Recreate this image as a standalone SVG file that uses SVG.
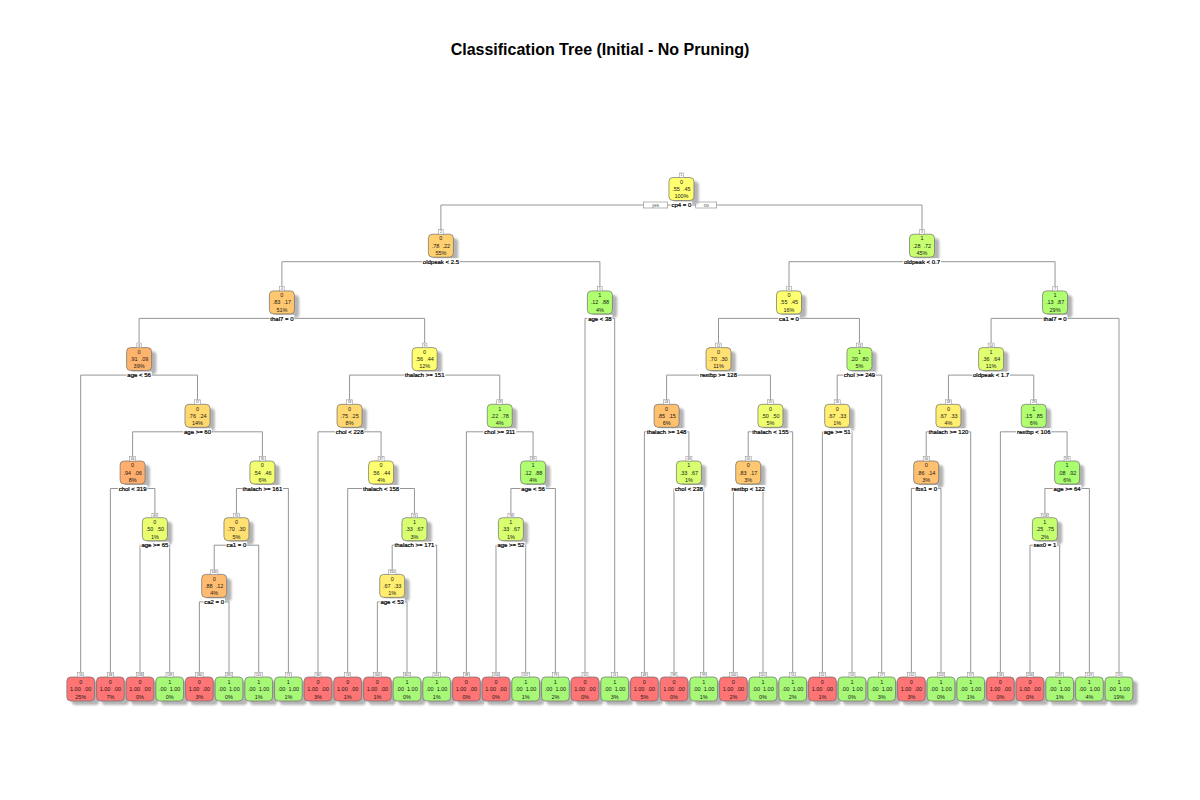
<svg xmlns="http://www.w3.org/2000/svg" width="1200" height="800" viewBox="0 0 1200 800">
<defs>
<filter id="sf" x="-30%" y="-30%" width="160%" height="160%"><feGaussianBlur stdDeviation="1.1"/></filter>
<style>
text { font-family: "Liberation Sans", Arial, sans-serif; text-anchor: middle; }
.title { font-size: 16px; font-weight: bold; fill: #000; }
.v { font-size: 5.5px; fill: #1a1a1a; }
.s { font-size: 6px; fill: #000; stroke: #000; stroke-width: 0.22; }
.n { font-size: 3.2px; fill: #444; }
.yn { font-size: 4.6px; fill: #555; }
.sh { fill: #b4b4b4; filter: url(#sf); transform: translate(0.8px, 0); }
.bx { stroke: #6e6e6e; stroke-width: 0.7; }
.nb { fill: #fff; stroke: #888; stroke-width: 0.5; }
.lb { fill: #fff; }
.ynb { fill: #fff; stroke: #888; stroke-width: 0.6; }
.br { fill: none; stroke: #8a8a8a; stroke-width: 0.9; }
.red { fill: #FF7474; }
.grn { fill: #A8F878; }
</style>
</defs>
<rect width="1200" height="800" fill="#fff"/>
<text class="title" x="600" y="54.5">Classification Tree (Initial - No Pruning)</text>

<g id="connectors">
<path class="br" d="M440.9,229.7 V205 H922 V229.7"/>
<path class="br" d="M281.9,286.4 V261.7 H599.9 V286.4"/>
<path class="br" d="M789,286.4 V261.7 H1055.05 V286.4"/>
<path class="br" d="M139.1,343.1 V318.4 H424.65 V343.1"/>
<path class="br" d="M585,672.5 V318.4 H614.7 V672.5"/>
<path class="br" d="M718.5,343.1 V318.4 H859.45 V343.1"/>
<path class="br" d="M991.1,343.1 V318.4 H1119 V672.5"/>
<path class="br" d="M80.7,672.5 V375.1 H197.5 V399.8"/>
<path class="br" d="M349.55,399.8 V375.1 H499.75 V399.8"/>
<path class="br" d="M666.6,399.8 V375.1 H770.45 V399.8"/>
<path class="br" d="M837.2,399.8 V375.1 H881.7 V672.5"/>
<path class="br" d="M948.45,399.8 V375.1 H1033.75 V399.8"/>
<path class="br" d="M132.6,456.5 V431.8 H262.4 V456.5"/>
<path class="br" d="M318,672.5 V431.8 H381.1 V456.5"/>
<path class="br" d="M466.4,672.5 V431.8 H533.1 V456.5"/>
<path class="br" d="M644.4,672.5 V431.8 H688.9 V456.5"/>
<path class="br" d="M748.2,456.5 V431.8 H792.7 V672.5"/>
<path class="br" d="M822.4,672.5 V431.8 H852 V672.5"/>
<path class="br" d="M926.2,456.5 V431.8 H970.7 V672.5"/>
<path class="br" d="M1000.4,672.5 V431.8 H1067.1 V456.5"/>
<path class="br" d="M110.4,672.5 V488.5 H154.9 V513.2"/>
<path class="br" d="M236.45,513.2 V488.5 H288.4 V672.5"/>
<path class="br" d="M347.7,672.5 V488.5 H414.45 V513.2"/>
<path class="br" d="M510.9,513.2 V488.5 H555.4 V672.5"/>
<path class="br" d="M674,672.5 V488.5 H703.7 V672.5"/>
<path class="br" d="M733.4,672.5 V488.5 H763 V672.5"/>
<path class="br" d="M911.4,672.5 V488.5 H941 V672.5"/>
<path class="br" d="M1044.9,513.2 V488.5 H1089.4 V672.5"/>
<path class="br" d="M140,672.5 V545.2 H169.7 V672.5"/>
<path class="br" d="M214.2,569.9 V545.2 H258.7 V672.5"/>
<path class="br" d="M392.2,569.9 V545.2 H436.7 V672.5"/>
<path class="br" d="M496,672.5 V545.2 H525.7 V672.5"/>
<path class="br" d="M1030,672.5 V545.2 H1059.7 V672.5"/>
<path class="br" d="M199.4,672.5 V601.9 H229 V672.5"/>
<path class="br" d="M377.4,672.5 V601.9 H407 V672.5"/>
<rect class="ynb" x="643.3" y="202" width="24.4" height="6"/>
<text class="yn" x="655.5" y="206.7">yes</text>
<rect class="ynb" x="695.7" y="202" width="21" height="6"/>
<text class="yn" x="706.2" y="206.7">no</text>
</g>

<g id="nodes">
<g id="node1" transform="translate(681.45,177.5)"><rect class="sh" x="-8.5" y="4" width="25" height="23" rx="4"/><rect class="bx" x="-12.5" y="0" width="25" height="23" rx="4" fill="#FFFF70"/><rect class="nb" x="-2.25" y="-4.5" width="4.5" height="4.5"/><text class="n" y="-1.1">1</text><text class="v" y="6.3">0</text><text class="v" y="13.6">.55&#160;&#160;.45</text><text class="v" y="20.9">100%</text><rect class="lb" x="-10.7" y="24" width="21.4" height="7"/><text class="s" y="29.7">cp4 = 0</text></g>
<g id="node2" transform="translate(440.9,234.2)"><rect class="sh" x="-8.5" y="4" width="25" height="23" rx="4"/><rect class="bx" x="-12.5" y="0" width="25" height="23" rx="4" fill="#FFD070"/><rect class="nb" x="-2.25" y="-4.5" width="4.5" height="4.5"/><text class="n" y="-1.1">2</text><text class="v" y="6.3">0</text><text class="v" y="13.6">.78&#160;&#160;.22</text><text class="v" y="20.9">55%</text><rect class="lb" x="-18.9" y="24" width="37.8" height="7"/><text class="s" y="29.7">oldpeak &lt; 2.5</text></g>
<g id="node3" transform="translate(922,234.2)"><rect class="sh" x="-8.5" y="4" width="25" height="23" rx="4"/><rect class="bx" x="-12.5" y="0" width="25" height="23" rx="4" fill="#C8FF70"/><rect class="nb" x="-2.25" y="-4.5" width="4.5" height="4.5"/><text class="n" y="-1.1">3</text><text class="v" y="6.3">1</text><text class="v" y="13.6">.28&#160;&#160;.72</text><text class="v" y="20.9">45%</text><rect class="lb" x="-18.9" y="24" width="37.8" height="7"/><text class="s" y="29.7">oldpeak &lt; 0.7</text></g>
<g id="node4" transform="translate(281.9,290.9)"><rect class="sh" x="-8.5" y="4" width="25" height="23" rx="4"/><rect class="bx" x="-12.5" y="0" width="25" height="23" rx="4" fill="#FFC870"/><rect class="nb" x="-2.25" y="-4.5" width="4.5" height="4.5"/><text class="n" y="-1.1">4</text><text class="v" y="6.3">0</text><text class="v" y="13.6">.83&#160;&#160;.17</text><text class="v" y="20.9">51%</text><rect class="lb" x="-12.4" y="24" width="24.8" height="7"/><text class="s" y="29.7">thal7 = 0</text></g>
<g id="node5" transform="translate(599.9,290.9)"><rect class="sh" x="-8.5" y="4" width="25" height="23" rx="4"/><rect class="bx" x="-12.5" y="0" width="25" height="23" rx="4" fill="#B0FF70"/><rect class="nb" x="-2.25" y="-4.5" width="4.5" height="4.5"/><text class="n" y="-1.1">5</text><text class="v" y="6.3">1</text><text class="v" y="13.6">.12&#160;&#160;.88</text><text class="v" y="20.9">4%</text><rect class="lb" x="-12.6" y="24" width="25.2" height="7"/><text class="s" y="29.7">age &lt; 38</text></g>
<g id="node6" transform="translate(789,290.9)"><rect class="sh" x="-8.5" y="4" width="25" height="23" rx="4"/><rect class="bx" x="-12.5" y="0" width="25" height="23" rx="4" fill="#FFFF70"/><rect class="nb" x="-2.25" y="-4.5" width="4.5" height="4.5"/><text class="n" y="-1.1">6</text><text class="v" y="6.3">0</text><text class="v" y="13.6">.55&#160;&#160;.45</text><text class="v" y="20.9">16%</text><rect class="lb" x="-10.7" y="24" width="21.4" height="7"/><text class="s" y="29.7">ca1 = 0</text></g>
<g id="node7" transform="translate(1055.05,290.9)"><rect class="sh" x="-8.5" y="4" width="25" height="23" rx="4"/><rect class="bx" x="-12.5" y="0" width="25" height="23" rx="4" fill="#B0FF70"/><rect class="nb" x="-2.25" y="-4.5" width="4.5" height="4.5"/><text class="n" y="-1.1">7</text><text class="v" y="6.3">1</text><text class="v" y="13.6">.13&#160;&#160;.87</text><text class="v" y="20.9">29%</text><rect class="lb" x="-12.4" y="24" width="24.8" height="7"/><text class="s" y="29.7">thal7 = 0</text></g>
<g id="node8" transform="translate(139.1,347.6)"><rect class="sh" x="-8.5" y="4" width="25" height="23" rx="4"/><rect class="bx" x="-12.5" y="0" width="25" height="23" rx="4" fill="#FFB46E"/><rect class="nb" x="-2.25" y="-4.5" width="4.5" height="4.5"/><text class="n" y="-1.1">8</text><text class="v" y="6.3">0</text><text class="v" y="13.6">.91&#160;&#160;.09</text><text class="v" y="20.9">39%</text><rect class="lb" x="-12.6" y="24" width="25.2" height="7"/><text class="s" y="29.7">age &lt; 56</text></g>
<g id="node9" transform="translate(424.65,347.6)"><rect class="sh" x="-8.5" y="4" width="25" height="23" rx="4"/><rect class="bx" x="-12.5" y="0" width="25" height="23" rx="4" fill="#FFFF70"/><rect class="nb" x="-2.25" y="-4.5" width="4.5" height="4.5"/><text class="n" y="-1.1">9</text><text class="v" y="6.3">0</text><text class="v" y="13.6">.56&#160;&#160;.44</text><text class="v" y="20.9">12%</text><rect class="lb" x="-20.6" y="24" width="41.2" height="7"/><text class="s" y="29.7">thalach &gt;= 151</text></g>
<g id="node12" transform="translate(718.5,347.6)"><rect class="sh" x="-8.5" y="4" width="25" height="23" rx="4"/><rect class="bx" x="-12.5" y="0" width="25" height="23" rx="4" fill="#FFE070"/><rect class="nb" x="-3" y="-4.5" width="6" height="4.5"/><text class="n" y="-1.1">12</text><text class="v" y="6.3">0</text><text class="v" y="13.6">.70&#160;&#160;.30</text><text class="v" y="20.9">11%</text><rect class="lb" x="-19.3" y="24" width="38.6" height="7"/><text class="s" y="29.7">restbp &gt;= 128</text></g>
<g id="node13" transform="translate(859.45,347.6)"><rect class="sh" x="-8.5" y="4" width="25" height="23" rx="4"/><rect class="bx" x="-12.5" y="0" width="25" height="23" rx="4" fill="#B8FF70"/><rect class="nb" x="-3" y="-4.5" width="6" height="4.5"/><text class="n" y="-1.1">13</text><text class="v" y="6.3">1</text><text class="v" y="13.6">.20&#160;&#160;.80</text><text class="v" y="20.9">5%</text><rect class="lb" x="-16.5" y="24" width="33" height="7"/><text class="s" y="29.7">chol &gt;= 249</text></g>
<g id="node14" transform="translate(991.1,347.6)"><rect class="sh" x="-8.5" y="4" width="25" height="23" rx="4"/><rect class="bx" x="-12.5" y="0" width="25" height="23" rx="4" fill="#E0FF70"/><rect class="nb" x="-3" y="-4.5" width="6" height="4.5"/><text class="n" y="-1.1">14</text><text class="v" y="6.3">1</text><text class="v" y="13.6">.36&#160;&#160;.64</text><text class="v" y="20.9">11%</text><rect class="lb" x="-18.9" y="24" width="37.8" height="7"/><text class="s" y="29.7">oldpeak &lt; 1.7</text></g>
<g id="node17" transform="translate(197.5,404.3)"><rect class="sh" x="-8.5" y="4" width="25" height="23" rx="4"/><rect class="bx" x="-12.5" y="0" width="25" height="23" rx="4" fill="#FFD870"/><rect class="nb" x="-3" y="-4.5" width="6" height="4.5"/><text class="n" y="-1.1">17</text><text class="v" y="6.3">0</text><text class="v" y="13.6">.76&#160;&#160;.24</text><text class="v" y="20.9">14%</text><rect class="lb" x="-14.3" y="24" width="28.6" height="7"/><text class="s" y="29.7">age &gt;= 60</text></g>
<g id="node18" transform="translate(349.55,404.3)"><rect class="sh" x="-8.5" y="4" width="25" height="23" rx="4"/><rect class="bx" x="-12.5" y="0" width="25" height="23" rx="4" fill="#FFD870"/><rect class="nb" x="-3" y="-4.5" width="6" height="4.5"/><text class="n" y="-1.1">18</text><text class="v" y="6.3">0</text><text class="v" y="13.6">.75&#160;&#160;.25</text><text class="v" y="20.9">8%</text><rect class="lb" x="-14.75" y="24" width="29.5" height="7"/><text class="s" y="29.7">chol &lt; 228</text></g>
<g id="node19" transform="translate(499.75,404.3)"><rect class="sh" x="-8.5" y="4" width="25" height="23" rx="4"/><rect class="bx" x="-12.5" y="0" width="25" height="23" rx="4" fill="#B8FF70"/><rect class="nb" x="-3" y="-4.5" width="6" height="4.5"/><text class="n" y="-1.1">19</text><text class="v" y="6.3">1</text><text class="v" y="13.6">.22&#160;&#160;.78</text><text class="v" y="20.9">4%</text><rect class="lb" x="-16.5" y="24" width="33" height="7"/><text class="s" y="29.7">chol &gt;= 311</text></g>
<g id="node24" transform="translate(666.6,404.3)"><rect class="sh" x="-8.5" y="4" width="25" height="23" rx="4"/><rect class="bx" x="-12.5" y="0" width="25" height="23" rx="4" fill="#FFC070"/><rect class="nb" x="-3" y="-4.5" width="6" height="4.5"/><text class="n" y="-1.1">24</text><text class="v" y="6.3">0</text><text class="v" y="13.6">.85&#160;&#160;.15</text><text class="v" y="20.9">6%</text><rect class="lb" x="-20.6" y="24" width="41.2" height="7"/><text class="s" y="29.7">thalach &gt;= 148</text></g>
<g id="node25" transform="translate(770.45,404.3)"><rect class="sh" x="-8.5" y="4" width="25" height="23" rx="4"/><rect class="bx" x="-12.5" y="0" width="25" height="23" rx="4" fill="#EEFF70"/><rect class="nb" x="-3" y="-4.5" width="6" height="4.5"/><text class="n" y="-1.1">25</text><text class="v" y="6.3">0</text><text class="v" y="13.6">.50&#160;&#160;.50</text><text class="v" y="20.9">5%</text><rect class="lb" x="-18.9" y="24" width="37.8" height="7"/><text class="s" y="29.7">thalach &lt; 155</text></g>
<g id="node26" transform="translate(837.2,404.3)"><rect class="sh" x="-8.5" y="4" width="25" height="23" rx="4"/><rect class="bx" x="-12.5" y="0" width="25" height="23" rx="4" fill="#FFEE70"/><rect class="nb" x="-3" y="-4.5" width="6" height="4.5"/><text class="n" y="-1.1">26</text><text class="v" y="6.3">0</text><text class="v" y="13.6">.67&#160;&#160;.33</text><text class="v" y="20.9">1%</text><rect class="lb" x="-14.3" y="24" width="28.6" height="7"/><text class="s" y="29.7">age &gt;= 51</text></g>
<g id="node28" transform="translate(948.45,404.3)"><rect class="sh" x="-8.5" y="4" width="25" height="23" rx="4"/><rect class="bx" x="-12.5" y="0" width="25" height="23" rx="4" fill="#FFEE70"/><rect class="nb" x="-3" y="-4.5" width="6" height="4.5"/><text class="n" y="-1.1">28</text><text class="v" y="6.3">0</text><text class="v" y="13.6">.67&#160;&#160;.33</text><text class="v" y="20.9">4%</text><rect class="lb" x="-20.6" y="24" width="41.2" height="7"/><text class="s" y="29.7">thalach &gt;= 120</text></g>
<g id="node29" transform="translate(1033.75,404.3)"><rect class="sh" x="-8.5" y="4" width="25" height="23" rx="4"/><rect class="bx" x="-12.5" y="0" width="25" height="23" rx="4" fill="#B0FF70"/><rect class="nb" x="-3" y="-4.5" width="6" height="4.5"/><text class="n" y="-1.1">29</text><text class="v" y="6.3">1</text><text class="v" y="13.6">.15&#160;&#160;.85</text><text class="v" y="20.9">6%</text><rect class="lb" x="-17.55" y="24" width="35.1" height="7"/><text class="s" y="29.7">restbp &lt; 106</text></g>
<g id="node34" transform="translate(132.6,461)"><rect class="sh" x="-8.5" y="4" width="25" height="23" rx="4"/><rect class="bx" x="-12.5" y="0" width="25" height="23" rx="4" fill="#FFAE6E"/><rect class="nb" x="-3" y="-4.5" width="6" height="4.5"/><text class="n" y="-1.1">34</text><text class="v" y="6.3">0</text><text class="v" y="13.6">.94&#160;&#160;.06</text><text class="v" y="20.9">8%</text><rect class="lb" x="-14.75" y="24" width="29.5" height="7"/><text class="s" y="29.7">chol &lt; 319</text></g>
<g id="node35" transform="translate(262.4,461)"><rect class="sh" x="-8.5" y="4" width="25" height="23" rx="4"/><rect class="bx" x="-12.5" y="0" width="25" height="23" rx="4" fill="#F2FF70"/><rect class="nb" x="-3" y="-4.5" width="6" height="4.5"/><text class="n" y="-1.1">35</text><text class="v" y="6.3">0</text><text class="v" y="13.6">.54&#160;&#160;.46</text><text class="v" y="20.9">6%</text><rect class="lb" x="-20.6" y="24" width="41.2" height="7"/><text class="s" y="29.7">thalach &gt;= 161</text></g>
<g id="node37" transform="translate(381.1,461)"><rect class="sh" x="-8.5" y="4" width="25" height="23" rx="4"/><rect class="bx" x="-12.5" y="0" width="25" height="23" rx="4" fill="#FFFF70"/><rect class="nb" x="-3" y="-4.5" width="6" height="4.5"/><text class="n" y="-1.1">37</text><text class="v" y="6.3">0</text><text class="v" y="13.6">.56&#160;&#160;.44</text><text class="v" y="20.9">4%</text><rect class="lb" x="-18.9" y="24" width="37.8" height="7"/><text class="s" y="29.7">thalach &lt; 158</text></g>
<g id="node39" transform="translate(533.1,461)"><rect class="sh" x="-8.5" y="4" width="25" height="23" rx="4"/><rect class="bx" x="-12.5" y="0" width="25" height="23" rx="4" fill="#B0FF70"/><rect class="nb" x="-3" y="-4.5" width="6" height="4.5"/><text class="n" y="-1.1">39</text><text class="v" y="6.3">1</text><text class="v" y="13.6">.12&#160;&#160;.88</text><text class="v" y="20.9">4%</text><rect class="lb" x="-12.6" y="24" width="25.2" height="7"/><text class="s" y="29.7">age &lt; 56</text></g>
<g id="node49" transform="translate(688.9,461)"><rect class="sh" x="-8.5" y="4" width="25" height="23" rx="4"/><rect class="bx" x="-12.5" y="0" width="25" height="23" rx="4" fill="#D8FF70"/><rect class="nb" x="-3" y="-4.5" width="6" height="4.5"/><text class="n" y="-1.1">49</text><text class="v" y="6.3">1</text><text class="v" y="13.6">.33&#160;&#160;.67</text><text class="v" y="20.9">1%</text><rect class="lb" x="-14.75" y="24" width="29.5" height="7"/><text class="s" y="29.7">chol &lt; 238</text></g>
<g id="node50" transform="translate(748.2,461)"><rect class="sh" x="-8.5" y="4" width="25" height="23" rx="4"/><rect class="bx" x="-12.5" y="0" width="25" height="23" rx="4" fill="#FFC870"/><rect class="nb" x="-3" y="-4.5" width="6" height="4.5"/><text class="n" y="-1.1">50</text><text class="v" y="6.3">0</text><text class="v" y="13.6">.83&#160;&#160;.17</text><text class="v" y="20.9">3%</text><rect class="lb" x="-17.55" y="24" width="35.1" height="7"/><text class="s" y="29.7">restbp &lt; 122</text></g>
<g id="node56" transform="translate(926.2,461)"><rect class="sh" x="-8.5" y="4" width="25" height="23" rx="4"/><rect class="bx" x="-12.5" y="0" width="25" height="23" rx="4" fill="#FFC070"/><rect class="nb" x="-3" y="-4.5" width="6" height="4.5"/><text class="n" y="-1.1">56</text><text class="v" y="6.3">0</text><text class="v" y="13.6">.86&#160;&#160;.14</text><text class="v" y="20.9">3%</text><rect class="lb" x="-11.55" y="24" width="23.1" height="7"/><text class="s" y="29.7">fbs1 = 0</text></g>
<g id="node59" transform="translate(1067.1,461)"><rect class="sh" x="-8.5" y="4" width="25" height="23" rx="4"/><rect class="bx" x="-12.5" y="0" width="25" height="23" rx="4" fill="#AAFF70"/><rect class="nb" x="-3" y="-4.5" width="6" height="4.5"/><text class="n" y="-1.1">59</text><text class="v" y="6.3">1</text><text class="v" y="13.6">.08&#160;&#160;.92</text><text class="v" y="20.9">6%</text><rect class="lb" x="-14.3" y="24" width="28.6" height="7"/><text class="s" y="29.7">age &gt;= 64</text></g>
<g id="node69" transform="translate(154.9,517.7)"><rect class="sh" x="-8.5" y="4" width="25" height="23" rx="4"/><rect class="bx" x="-12.5" y="0" width="25" height="23" rx="4" fill="#EAFF70"/><rect class="nb" x="-3" y="-4.5" width="6" height="4.5"/><text class="n" y="-1.1">69</text><text class="v" y="6.3">0</text><text class="v" y="13.6">.50&#160;&#160;.50</text><text class="v" y="20.9">1%</text><rect class="lb" x="-14.3" y="24" width="28.6" height="7"/><text class="s" y="29.7">age &gt;= 65</text></g>
<g id="node70" transform="translate(236.45,517.7)"><rect class="sh" x="-8.5" y="4" width="25" height="23" rx="4"/><rect class="bx" x="-12.5" y="0" width="25" height="23" rx="4" fill="#FFE070"/><rect class="nb" x="-3" y="-4.5" width="6" height="4.5"/><text class="n" y="-1.1">70</text><text class="v" y="6.3">0</text><text class="v" y="13.6">.70&#160;&#160;.30</text><text class="v" y="20.9">5%</text><rect class="lb" x="-10.7" y="24" width="21.4" height="7"/><text class="s" y="29.7">ca1 = 0</text></g>
<g id="node75" transform="translate(414.45,517.7)"><rect class="sh" x="-8.5" y="4" width="25" height="23" rx="4"/><rect class="bx" x="-12.5" y="0" width="25" height="23" rx="4" fill="#D8FF70"/><rect class="nb" x="-3" y="-4.5" width="6" height="4.5"/><text class="n" y="-1.1">75</text><text class="v" y="6.3">1</text><text class="v" y="13.6">.33&#160;&#160;.67</text><text class="v" y="20.9">3%</text><rect class="lb" x="-20.6" y="24" width="41.2" height="7"/><text class="s" y="29.7">thalach &gt;= 171</text></g>
<g id="node78" transform="translate(510.9,517.7)"><rect class="sh" x="-8.5" y="4" width="25" height="23" rx="4"/><rect class="bx" x="-12.5" y="0" width="25" height="23" rx="4" fill="#D8FF70"/><rect class="nb" x="-3" y="-4.5" width="6" height="4.5"/><text class="n" y="-1.1">78</text><text class="v" y="6.3">1</text><text class="v" y="13.6">.33&#160;&#160;.67</text><text class="v" y="20.9">1%</text><rect class="lb" x="-14.3" y="24" width="28.6" height="7"/><text class="s" y="29.7">age &gt;= 52</text></g>
<g id="node118" transform="translate(1044.9,517.7)"><rect class="sh" x="-8.5" y="4" width="25" height="23" rx="4"/><rect class="bx" x="-12.5" y="0" width="25" height="23" rx="4" fill="#C4FF70"/><rect class="nb" x="-3.75" y="-4.5" width="7.5" height="4.5"/><text class="n" y="-1.1">118</text><text class="v" y="6.3">1</text><text class="v" y="13.6">.25&#160;&#160;.75</text><text class="v" y="20.9">2%</text><rect class="lb" x="-12.2" y="24" width="24.4" height="7"/><text class="s" y="29.7">sex0 = 1</text></g>
<g id="node140" transform="translate(214.2,574.4)"><rect class="sh" x="-8.5" y="4" width="25" height="23" rx="4"/><rect class="bx" x="-12.5" y="0" width="25" height="23" rx="4" fill="#FFBC70"/><rect class="nb" x="-3.75" y="-4.5" width="7.5" height="4.5"/><text class="n" y="-1.1">140</text><text class="v" y="6.3">0</text><text class="v" y="13.6">.88&#160;&#160;.12</text><text class="v" y="20.9">4%</text><rect class="lb" x="-10.7" y="24" width="21.4" height="7"/><text class="s" y="29.7">ca2 = 0</text></g>
<g id="node150" transform="translate(392.2,574.4)"><rect class="sh" x="-8.5" y="4" width="25" height="23" rx="4"/><rect class="bx" x="-12.5" y="0" width="25" height="23" rx="4" fill="#FFEE70"/><rect class="nb" x="-3.75" y="-4.5" width="7.5" height="4.5"/><text class="n" y="-1.1">150</text><text class="v" y="6.3">0</text><text class="v" y="13.6">.67&#160;&#160;.33</text><text class="v" y="20.9">1%</text><rect class="lb" x="-12.6" y="24" width="25.2" height="7"/><text class="s" y="29.7">age &lt; 53</text></g>
</g>

<g id="leaves">
<g id="node16" transform="translate(80.7,677)"><rect class="sh" x="-9.85" y="4" width="27.7" height="24" rx="4"/><rect class="bx red" x="-13.85" y="0" width="27.7" height="24" rx="4"/><rect class="nb" x="-3" y="-4.5" width="6" height="4.5"/><text class="n" y="-1.1">16</text><text class="v" y="7">0</text><text class="v" y="14.3">1.00&#160;&#160;.00</text><text class="v" y="21.6">25%</text></g>
<g id="node68" transform="translate(110.4,677)"><rect class="sh" x="-9.85" y="4" width="27.7" height="24" rx="4"/><rect class="bx red" x="-13.85" y="0" width="27.7" height="24" rx="4"/><rect class="nb" x="-3" y="-4.5" width="6" height="4.5"/><text class="n" y="-1.1">68</text><text class="v" y="7">0</text><text class="v" y="14.3">1.00&#160;&#160;.00</text><text class="v" y="21.6">7%</text></g>
<g id="node138" transform="translate(140,677)"><rect class="sh" x="-9.85" y="4" width="27.7" height="24" rx="4"/><rect class="bx red" x="-13.85" y="0" width="27.7" height="24" rx="4"/><rect class="nb" x="-3.75" y="-4.5" width="7.5" height="4.5"/><text class="n" y="-1.1">138</text><text class="v" y="7">0</text><text class="v" y="14.3">1.00&#160;&#160;.00</text><text class="v" y="21.6">0%</text></g>
<g id="node139" transform="translate(169.7,677)"><rect class="sh" x="-9.85" y="4" width="27.7" height="24" rx="4"/><rect class="bx grn" x="-13.85" y="0" width="27.7" height="24" rx="4"/><rect class="nb" x="-3.75" y="-4.5" width="7.5" height="4.5"/><text class="n" y="-1.1">139</text><text class="v" y="7">1</text><text class="v" y="14.3">.00&#160;&#160;1.00</text><text class="v" y="21.6">0%</text></g>
<g id="node280" transform="translate(199.4,677)"><rect class="sh" x="-9.85" y="4" width="27.7" height="24" rx="4"/><rect class="bx red" x="-13.85" y="0" width="27.7" height="24" rx="4"/><rect class="nb" x="-3.75" y="-4.5" width="7.5" height="4.5"/><text class="n" y="-1.1">280</text><text class="v" y="7">0</text><text class="v" y="14.3">1.00&#160;&#160;.00</text><text class="v" y="21.6">3%</text></g>
<g id="node281" transform="translate(229,677)"><rect class="sh" x="-9.85" y="4" width="27.7" height="24" rx="4"/><rect class="bx grn" x="-13.85" y="0" width="27.7" height="24" rx="4"/><rect class="nb" x="-3.75" y="-4.5" width="7.5" height="4.5"/><text class="n" y="-1.1">281</text><text class="v" y="7">1</text><text class="v" y="14.3">.00&#160;&#160;1.00</text><text class="v" y="21.6">0%</text></g>
<g id="node141" transform="translate(258.7,677)"><rect class="sh" x="-9.85" y="4" width="27.7" height="24" rx="4"/><rect class="bx grn" x="-13.85" y="0" width="27.7" height="24" rx="4"/><rect class="nb" x="-3.75" y="-4.5" width="7.5" height="4.5"/><text class="n" y="-1.1">141</text><text class="v" y="7">1</text><text class="v" y="14.3">.00&#160;&#160;1.00</text><text class="v" y="21.6">1%</text></g>
<g id="node71" transform="translate(288.4,677)"><rect class="sh" x="-9.85" y="4" width="27.7" height="24" rx="4"/><rect class="bx grn" x="-13.85" y="0" width="27.7" height="24" rx="4"/><rect class="nb" x="-3" y="-4.5" width="6" height="4.5"/><text class="n" y="-1.1">71</text><text class="v" y="7">1</text><text class="v" y="14.3">.00&#160;&#160;1.00</text><text class="v" y="21.6">1%</text></g>
<g id="node36" transform="translate(318,677)"><rect class="sh" x="-9.85" y="4" width="27.7" height="24" rx="4"/><rect class="bx red" x="-13.85" y="0" width="27.7" height="24" rx="4"/><rect class="nb" x="-3" y="-4.5" width="6" height="4.5"/><text class="n" y="-1.1">36</text><text class="v" y="7">0</text><text class="v" y="14.3">1.00&#160;&#160;.00</text><text class="v" y="21.6">3%</text></g>
<g id="node74" transform="translate(347.7,677)"><rect class="sh" x="-9.85" y="4" width="27.7" height="24" rx="4"/><rect class="bx red" x="-13.85" y="0" width="27.7" height="24" rx="4"/><rect class="nb" x="-3" y="-4.5" width="6" height="4.5"/><text class="n" y="-1.1">74</text><text class="v" y="7">0</text><text class="v" y="14.3">1.00&#160;&#160;.00</text><text class="v" y="21.6">1%</text></g>
<g id="node300" transform="translate(377.4,677)"><rect class="sh" x="-9.85" y="4" width="27.7" height="24" rx="4"/><rect class="bx red" x="-13.85" y="0" width="27.7" height="24" rx="4"/><rect class="nb" x="-3.75" y="-4.5" width="7.5" height="4.5"/><text class="n" y="-1.1">300</text><text class="v" y="7">0</text><text class="v" y="14.3">1.00&#160;&#160;.00</text><text class="v" y="21.6">1%</text></g>
<g id="node301" transform="translate(407,677)"><rect class="sh" x="-9.85" y="4" width="27.7" height="24" rx="4"/><rect class="bx grn" x="-13.85" y="0" width="27.7" height="24" rx="4"/><rect class="nb" x="-3.75" y="-4.5" width="7.5" height="4.5"/><text class="n" y="-1.1">301</text><text class="v" y="7">1</text><text class="v" y="14.3">.00&#160;&#160;1.00</text><text class="v" y="21.6">0%</text></g>
<g id="node151" transform="translate(436.7,677)"><rect class="sh" x="-9.85" y="4" width="27.7" height="24" rx="4"/><rect class="bx grn" x="-13.85" y="0" width="27.7" height="24" rx="4"/><rect class="nb" x="-3.75" y="-4.5" width="7.5" height="4.5"/><text class="n" y="-1.1">151</text><text class="v" y="7">1</text><text class="v" y="14.3">.00&#160;&#160;1.00</text><text class="v" y="21.6">1%</text></g>
<g id="node38" transform="translate(466.4,677)"><rect class="sh" x="-9.85" y="4" width="27.7" height="24" rx="4"/><rect class="bx red" x="-13.85" y="0" width="27.7" height="24" rx="4"/><rect class="nb" x="-3" y="-4.5" width="6" height="4.5"/><text class="n" y="-1.1">38</text><text class="v" y="7">0</text><text class="v" y="14.3">1.00&#160;&#160;.00</text><text class="v" y="21.6">0%</text></g>
<g id="node156" transform="translate(496,677)"><rect class="sh" x="-9.85" y="4" width="27.7" height="24" rx="4"/><rect class="bx red" x="-13.85" y="0" width="27.7" height="24" rx="4"/><rect class="nb" x="-3.75" y="-4.5" width="7.5" height="4.5"/><text class="n" y="-1.1">156</text><text class="v" y="7">0</text><text class="v" y="14.3">1.00&#160;&#160;.00</text><text class="v" y="21.6">0%</text></g>
<g id="node157" transform="translate(525.7,677)"><rect class="sh" x="-9.85" y="4" width="27.7" height="24" rx="4"/><rect class="bx grn" x="-13.85" y="0" width="27.7" height="24" rx="4"/><rect class="nb" x="-3.75" y="-4.5" width="7.5" height="4.5"/><text class="n" y="-1.1">157</text><text class="v" y="7">1</text><text class="v" y="14.3">.00&#160;&#160;1.00</text><text class="v" y="21.6">1%</text></g>
<g id="node79" transform="translate(555.4,677)"><rect class="sh" x="-9.85" y="4" width="27.7" height="24" rx="4"/><rect class="bx grn" x="-13.85" y="0" width="27.7" height="24" rx="4"/><rect class="nb" x="-3" y="-4.5" width="6" height="4.5"/><text class="n" y="-1.1">79</text><text class="v" y="7">1</text><text class="v" y="14.3">.00&#160;&#160;1.00</text><text class="v" y="21.6">2%</text></g>
<g id="node10" transform="translate(585,677)"><rect class="sh" x="-9.85" y="4" width="27.7" height="24" rx="4"/><rect class="bx red" x="-13.85" y="0" width="27.7" height="24" rx="4"/><rect class="nb" x="-3" y="-4.5" width="6" height="4.5"/><text class="n" y="-1.1">10</text><text class="v" y="7">0</text><text class="v" y="14.3">1.00&#160;&#160;.00</text><text class="v" y="21.6">0%</text></g>
<g id="node11" transform="translate(614.7,677)"><rect class="sh" x="-9.85" y="4" width="27.7" height="24" rx="4"/><rect class="bx grn" x="-13.85" y="0" width="27.7" height="24" rx="4"/><rect class="nb" x="-3" y="-4.5" width="6" height="4.5"/><text class="n" y="-1.1">11</text><text class="v" y="7">1</text><text class="v" y="14.3">.00&#160;&#160;1.00</text><text class="v" y="21.6">3%</text></g>
<g id="node48" transform="translate(644.4,677)"><rect class="sh" x="-9.85" y="4" width="27.7" height="24" rx="4"/><rect class="bx red" x="-13.85" y="0" width="27.7" height="24" rx="4"/><rect class="nb" x="-3" y="-4.5" width="6" height="4.5"/><text class="n" y="-1.1">48</text><text class="v" y="7">0</text><text class="v" y="14.3">1.00&#160;&#160;.00</text><text class="v" y="21.6">5%</text></g>
<g id="node98" transform="translate(674,677)"><rect class="sh" x="-9.85" y="4" width="27.7" height="24" rx="4"/><rect class="bx red" x="-13.85" y="0" width="27.7" height="24" rx="4"/><rect class="nb" x="-3" y="-4.5" width="6" height="4.5"/><text class="n" y="-1.1">98</text><text class="v" y="7">0</text><text class="v" y="14.3">1.00&#160;&#160;.00</text><text class="v" y="21.6">0%</text></g>
<g id="node99" transform="translate(703.7,677)"><rect class="sh" x="-9.85" y="4" width="27.7" height="24" rx="4"/><rect class="bx grn" x="-13.85" y="0" width="27.7" height="24" rx="4"/><rect class="nb" x="-3" y="-4.5" width="6" height="4.5"/><text class="n" y="-1.1">99</text><text class="v" y="7">1</text><text class="v" y="14.3">.00&#160;&#160;1.00</text><text class="v" y="21.6">1%</text></g>
<g id="node100" transform="translate(733.4,677)"><rect class="sh" x="-9.85" y="4" width="27.7" height="24" rx="4"/><rect class="bx red" x="-13.85" y="0" width="27.7" height="24" rx="4"/><rect class="nb" x="-3.75" y="-4.5" width="7.5" height="4.5"/><text class="n" y="-1.1">100</text><text class="v" y="7">0</text><text class="v" y="14.3">1.00&#160;&#160;.00</text><text class="v" y="21.6">2%</text></g>
<g id="node101" transform="translate(763,677)"><rect class="sh" x="-9.85" y="4" width="27.7" height="24" rx="4"/><rect class="bx grn" x="-13.85" y="0" width="27.7" height="24" rx="4"/><rect class="nb" x="-3.75" y="-4.5" width="7.5" height="4.5"/><text class="n" y="-1.1">101</text><text class="v" y="7">1</text><text class="v" y="14.3">.00&#160;&#160;1.00</text><text class="v" y="21.6">0%</text></g>
<g id="node51" transform="translate(792.7,677)"><rect class="sh" x="-9.85" y="4" width="27.7" height="24" rx="4"/><rect class="bx grn" x="-13.85" y="0" width="27.7" height="24" rx="4"/><rect class="nb" x="-3" y="-4.5" width="6" height="4.5"/><text class="n" y="-1.1">51</text><text class="v" y="7">1</text><text class="v" y="14.3">.00&#160;&#160;1.00</text><text class="v" y="21.6">2%</text></g>
<g id="node52" transform="translate(822.4,677)"><rect class="sh" x="-9.85" y="4" width="27.7" height="24" rx="4"/><rect class="bx red" x="-13.85" y="0" width="27.7" height="24" rx="4"/><rect class="nb" x="-3" y="-4.5" width="6" height="4.5"/><text class="n" y="-1.1">52</text><text class="v" y="7">0</text><text class="v" y="14.3">1.00&#160;&#160;.00</text><text class="v" y="21.6">1%</text></g>
<g id="node53" transform="translate(852,677)"><rect class="sh" x="-9.85" y="4" width="27.7" height="24" rx="4"/><rect class="bx grn" x="-13.85" y="0" width="27.7" height="24" rx="4"/><rect class="nb" x="-3" y="-4.5" width="6" height="4.5"/><text class="n" y="-1.1">53</text><text class="v" y="7">1</text><text class="v" y="14.3">.00&#160;&#160;1.00</text><text class="v" y="21.6">0%</text></g>
<g id="node27" transform="translate(881.7,677)"><rect class="sh" x="-9.85" y="4" width="27.7" height="24" rx="4"/><rect class="bx grn" x="-13.85" y="0" width="27.7" height="24" rx="4"/><rect class="nb" x="-3" y="-4.5" width="6" height="4.5"/><text class="n" y="-1.1">27</text><text class="v" y="7">1</text><text class="v" y="14.3">.00&#160;&#160;1.00</text><text class="v" y="21.6">3%</text></g>
<g id="node112" transform="translate(911.4,677)"><rect class="sh" x="-9.85" y="4" width="27.7" height="24" rx="4"/><rect class="bx red" x="-13.85" y="0" width="27.7" height="24" rx="4"/><rect class="nb" x="-3.75" y="-4.5" width="7.5" height="4.5"/><text class="n" y="-1.1">112</text><text class="v" y="7">0</text><text class="v" y="14.3">1.00&#160;&#160;.00</text><text class="v" y="21.6">3%</text></g>
<g id="node113" transform="translate(941,677)"><rect class="sh" x="-9.85" y="4" width="27.7" height="24" rx="4"/><rect class="bx grn" x="-13.85" y="0" width="27.7" height="24" rx="4"/><rect class="nb" x="-3.75" y="-4.5" width="7.5" height="4.5"/><text class="n" y="-1.1">113</text><text class="v" y="7">1</text><text class="v" y="14.3">.00&#160;&#160;1.00</text><text class="v" y="21.6">0%</text></g>
<g id="node57" transform="translate(970.7,677)"><rect class="sh" x="-9.85" y="4" width="27.7" height="24" rx="4"/><rect class="bx grn" x="-13.85" y="0" width="27.7" height="24" rx="4"/><rect class="nb" x="-3" y="-4.5" width="6" height="4.5"/><text class="n" y="-1.1">57</text><text class="v" y="7">1</text><text class="v" y="14.3">.00&#160;&#160;1.00</text><text class="v" y="21.6">1%</text></g>
<g id="node58" transform="translate(1000.4,677)"><rect class="sh" x="-9.85" y="4" width="27.7" height="24" rx="4"/><rect class="bx red" x="-13.85" y="0" width="27.7" height="24" rx="4"/><rect class="nb" x="-3" y="-4.5" width="6" height="4.5"/><text class="n" y="-1.1">58</text><text class="v" y="7">0</text><text class="v" y="14.3">1.00&#160;&#160;.00</text><text class="v" y="21.6">0%</text></g>
<g id="node236" transform="translate(1030,677)"><rect class="sh" x="-9.85" y="4" width="27.7" height="24" rx="4"/><rect class="bx red" x="-13.85" y="0" width="27.7" height="24" rx="4"/><rect class="nb" x="-3.75" y="-4.5" width="7.5" height="4.5"/><text class="n" y="-1.1">236</text><text class="v" y="7">0</text><text class="v" y="14.3">1.00&#160;&#160;.00</text><text class="v" y="21.6">0%</text></g>
<g id="node237" transform="translate(1059.7,677)"><rect class="sh" x="-9.85" y="4" width="27.7" height="24" rx="4"/><rect class="bx grn" x="-13.85" y="0" width="27.7" height="24" rx="4"/><rect class="nb" x="-3.75" y="-4.5" width="7.5" height="4.5"/><text class="n" y="-1.1">237</text><text class="v" y="7">1</text><text class="v" y="14.3">.00&#160;&#160;1.00</text><text class="v" y="21.6">1%</text></g>
<g id="node119" transform="translate(1089.4,677)"><rect class="sh" x="-9.85" y="4" width="27.7" height="24" rx="4"/><rect class="bx grn" x="-13.85" y="0" width="27.7" height="24" rx="4"/><rect class="nb" x="-3.75" y="-4.5" width="7.5" height="4.5"/><text class="n" y="-1.1">119</text><text class="v" y="7">1</text><text class="v" y="14.3">.00&#160;&#160;1.00</text><text class="v" y="21.6">4%</text></g>
<g id="node15" transform="translate(1119,677)"><rect class="sh" x="-9.85" y="4" width="27.7" height="24" rx="4"/><rect class="bx grn" x="-13.85" y="0" width="27.7" height="24" rx="4"/><rect class="nb" x="-3" y="-4.5" width="6" height="4.5"/><text class="n" y="-1.1">15</text><text class="v" y="7">1</text><text class="v" y="14.3">.00&#160;&#160;1.00</text><text class="v" y="21.6">19%</text></g>
</g>
</svg>
